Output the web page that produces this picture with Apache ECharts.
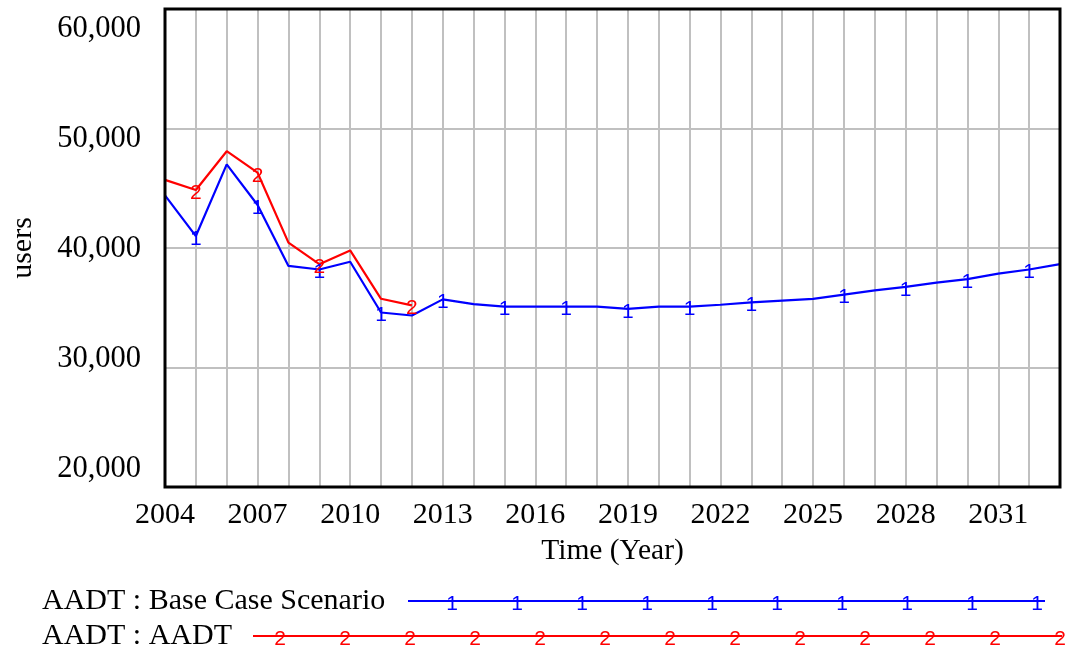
<!DOCTYPE html>
<html>
<head>
<meta charset="utf-8">
<script src="https://cdn.jsdelivr.net/npm/echarts@6/dist/echarts.min.js"></script>
<style>
  html, body { margin: 0; padding: 0; background: #fff; }
  #chart { width: 1071px; height: 657px; }
</style>
</head>
<body>
<div id="chart"></div>
<script>
// Years on the time axis
const years = ['2004','2005','2006','2007','2008','2009','2010','2011','2012','2013',
  '2014','2015','2016','2017','2018','2019','2020','2021','2022','2023',
  '2024','2025','2026','2027','2028','2029','2030','2031','2032','2033'];

// AADT, base case scenario (users)
const baseCase = [44400, 41000, 47000, 43600, 38500, 38200, 38850, 34600, 34350, 35700,
  35300, 35100, 35100, 35100, 35100, 34900, 35100, 35100, 35250, 35450,
  35600, 35750, 36100, 36450, 36750, 37100, 37400, 37850, 38200, 38650];

// AADT, observed (users)
const aadt = [45700, 44850, 48100, 46300, 40450, 38650, 39800, 35750, 35200];

// Value-axis tick labels
const yTicks = [20000, 30000, 40000, 50000, 60000];

const seriesNames = ['AADT : Base Case Scenario', 'AADT : AADT'];
const seriesDigits = ['1', '2'];
const seriesColors = ['#0000ff', '#ff0000'];

// Years where the series number is printed on the line
const baseMarkYears = [2005, 2007, 2009, 2011, 2013, 2015, 2017, 2019, 2021, 2023, 2026, 2028, 2030, 2032];
const aadtMarkYears = [2005, 2007, 2009, 2012];

const SERIF = '"Liberation Serif", "Times New Roman", serif';
const SANS = '"Liberation Sans", Arial, sans-serif';
const DIGIT_SIZE = 21;

function withMarks(values, markYears) {
  return values.map((v, i) =>
    markYears.indexOf(+years[i]) >= 0 ? { value: v, label: { show: true } } : v);
}

function lineSeries(idx, values, markYears) {
  return {
    name: seriesNames[idx],
    type: 'line',
    data: withMarks(values, markYears),
    symbol: 'circle',
    symbolSize: 1,
    showSymbol: true,
    itemStyle: { color: 'rgba(0,0,0,0)' },
    lineStyle: { color: seriesColors[idx], width: 2.2 },
    label: {
      show: false,
      position: 'inside',
      formatter: seriesDigits[idx],
      color: seriesColors[idx],
      fontFamily: SANS,
      fontSize: DIGIT_SIZE,
      offset: [0, 3]
    },
    emphasis: { disabled: true },
    silent: true,
    animation: false
  };
}

// Legend rows: name, sample line and repeated series number
const legendRows = [
  { y: 601, lineFrom: 408, lineTo: 1045, firstMark: 452, lastMark: 1040 },
  { y: 636, lineFrom: 253, lineTo: 1062, firstMark: 280, lastMark: 1062 }
];
const graphics = [];
legendRows.forEach((row, idx) => {
  graphics.push({
    type: 'text', left: 42, top: row.y - 15,
    style: { text: seriesNames[idx], font: '30px ' + SERIF, fill: '#000' }
  });
  graphics.push({
    type: 'line',
    shape: { x1: row.lineFrom, y1: row.y, x2: row.lineTo, y2: row.y },
    style: { stroke: seriesColors[idx], lineWidth: 2.2 }
  });
  for (let x = row.firstMark; x <= row.lastMark; x += 65) {
    graphics.push({
      type: 'text', x: x, y: row.y + 3,
      style: {
        text: seriesDigits[idx], font: DIGIT_SIZE + 'px ' + SANS, fill: seriesColors[idx],
        align: 'center', verticalAlign: 'middle'
      }
    });
  }
});

const chart = echarts.init(document.getElementById('chart'), null, { renderer: 'canvas' });
chart.setOption({
  backgroundColor: '#ffffff',
  animation: false,
  grid: {
    left: 164, right: 11, top: 9, bottom: 170,
    show: true, borderColor: '#000', borderWidth: 3, backgroundColor: 'transparent',
    z: 5
  },
  xAxis: {
    type: 'category',
    data: years,
    boundaryGap: false,
    axisLine: { show: false },
    axisTick: { show: false },
    axisLabel: { interval: 2, color: '#000', fontFamily: SERIF, fontSize: 30, margin: 13 },
    splitLine: { show: true, interval: 0, lineStyle: { color: '#c0c0c0', width: 2 } },
    name: 'Time (Year)',
    nameLocation: 'middle',
    nameGap: 49,
    nameTextStyle: { color: '#000', fontFamily: SERIF, fontSize: 29.5 }
  },
  yAxis: [
    {
      type: 'value',
      min: 20000, max: 60000, interval: 10000,
      axisLine: { show: false },
      axisTick: { show: false },
      axisLabel: { show: false },
      splitLine: { show: true, lineStyle: { color: '#c0c0c0', width: 2 } },
      name: 'users',
      nameLocation: 'middle',
      nameGap: 127,
      nameRotate: 90,
      nameTextStyle: { color: '#000', fontFamily: SERIF, fontSize: 30 }
    },
    {
      // label-only axis: tick labels are spread inside the plot height
      type: 'value',
      position: 'left',
      min: 18364, max: 61818,
      axisLine: { show: false },
      axisTick: { show: false },
      splitLine: { show: false },
      axisLabel: {
        customValues: yTicks,
        color: '#000', fontFamily: SERIF, fontSize: 30.5, margin: 24,
        formatter: v => v.toLocaleString('en-US')
      }
    }
  ],
  series: [
    lineSeries(0, baseCase, baseMarkYears),
    lineSeries(1, aadt, aadtMarkYears)
  ],
  graphic: graphics
});
</script>
</body>
</html>
